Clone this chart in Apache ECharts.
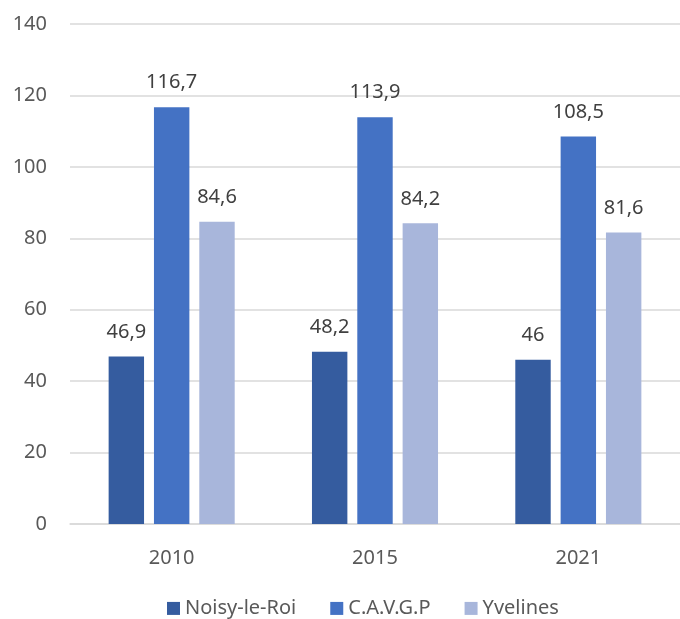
<html>
    <head>
        <style>
            *{box-sizing: border-box;}
            body,html{
                margin:0;
                padding: 0;
                width: 100%;
                height: 100%;
                background: #fff;
            }
            #chart{
                width: 680px;
                height: 619px;
            }
        </style>
        <script src="https://cdn.jsdelivr.net/npm/echarts@6/dist/echarts.min.js"></script>
    </head>
    <body>
        <div id="chart"></div>
        <script>
            var years = ["2010", "2015", "2021"];
            var noisy = [46.9, 48.2, 46];
            var cavgp = [116.7, 113.9, 108.5];
            var yvelines = [84.6, 84.2, 81.6];
            var series_names = ["Noisy-le-Roi", "C.A.V.G.P", "Yvelines"];
            var colors = ["#355C9F", "#4472C4", "#A8B6DB"];

            var font = "'Noto Sans', 'Open Sans', sans-serif";

            function fmt(p){
                return String(p.value).replace(".", ",");
            }

            function makeSeries(name, data, color){
                return {
                    name: name,
                    type: "bar",
                    data: data,
                    barGap: "28%",
                    barCategoryGap: "38%",
                    itemStyle: {color: color},
                    label: {
                        show: true,
                        position: "top",
                        distance: 8,
                        color: "#404040",
                        fontSize: 20,
                        fontFamily: font,
                        formatter: fmt
                    }
                };
            }

            var chart = echarts.init(document.getElementById("chart"));
            chart.setOption({
                animation: false,
                color: colors,
                grid: {
                    left: 70,
                    top: 24,
                    width: 618,
                    height: 500
                },
                legend: {
                    top: 587,
                    left: 162,
                    itemWidth: 13,
                    itemHeight: 13,
                    itemGap: 34,
                    icon: "rect",
                    textStyle: {color: "#595959", fontSize: 20, fontFamily: font},
                    data: series_names
                },
                xAxis: {
                    type: "category",
                    data: years,
                    axisTick: {show: false},
                    axisLine: {lineStyle: {color: "#D9D9D9", width: 1.5}},
                    axisLabel: {color: "#595959", fontSize: 20, fontFamily: font, margin: 18}
                },
                yAxis: {
                    type: "value",
                    min: 0,
                    max: 140,
                    interval: 20,
                    axisLine: {show: false},
                    axisTick: {show: false},
                    splitLine: {lineStyle: {color: "#D9D9D9", width: 1.5}},
                    axisLabel: {color: "#595959", fontSize: 20, fontFamily: font, margin: 23}
                },
                series: [
                    makeSeries(series_names[0], noisy, colors[0]),
                    makeSeries(series_names[1], cavgp, colors[1]),
                    makeSeries(series_names[2], yvelines, colors[2])
                ]
            });
        </script>
    </body>
</html>
